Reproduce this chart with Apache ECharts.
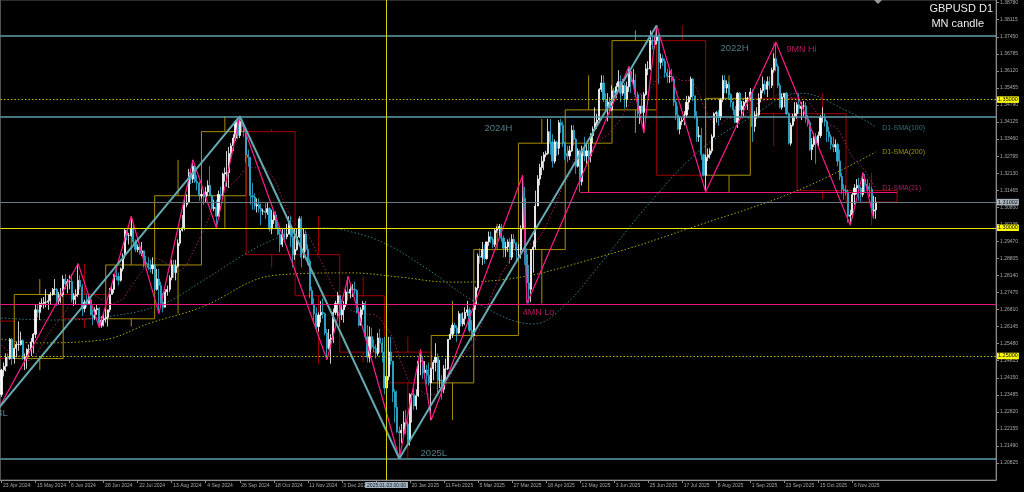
<!DOCTYPE html>
<html><head><meta charset="utf-8">
<script src="https://cdn.jsdelivr.net/npm/echarts@6/dist/echarts.min.js"></script>
<style>html,body{margin:0;padding:0;background:#000}#c{width:1024px;height:492px}</style>
</head><body><div id="c"></div>
<script>
// ---------- DATA ----------
// closes before first visible bar (Mar 26 - Apr 22 2024), for SMA(21) and the April monthly candle
const preCloses = [1.2636,1.2628,1.2623,1.2636,1.2545,1.2565,1.2650,1.2640,1.2635,1.2665,1.2670,1.2540,1.2555,1.2450,1.2445,1.2430,1.2455,1.2440,1.2370,1.2350];
const aprilHead = {startIdx:-16, open:1.2636, high:1.2710, low:1.2300};
// daily bars [high, low, close]
const m2024_04 = [[1.2450,1.2340,1.2445],[1.2475,1.2420,1.2460],[1.2510,1.2440,1.2495],[1.2510,1.2460,1.2490],[1.2570,1.2485,1.2565],[1.2570,1.2465,1.2490]];
const m2024_05 = [[1.2530,1.2470,1.2530],[1.2555,1.2495,1.2545],[1.2635,1.2520,1.2545],[1.2595,1.2540,1.2560],[1.2565,1.2485,1.2490],[1.2510,1.2445,1.2495],[1.2530,1.2450,1.2525],[1.2545,1.2495,1.2525],[1.2570,1.2500,1.2555],[1.2590,1.2510,1.2585],[1.2700,1.2570,1.2680],[1.2700,1.2650,1.2670],[1.2710,1.2640,1.2705],[1.2725,1.2690,1.2705],[1.2730,1.2685,1.2710],[1.2760,1.2690,1.2710],[1.2740,1.2680,1.2715],[1.2750,1.2700,1.2740],[1.2765,1.2735,1.2760],[1.2800,1.2740,1.2760],[1.2765,1.2695,1.2715],[1.2750,1.2700,1.2735],[1.2765,1.2705,1.2740]];
const m2024_06 = [[1.2815,1.2730,1.2800],[1.2820,1.2760,1.2780],[1.2800,1.2745,1.2790],[1.2815,1.2760,1.2790],[1.2820,1.2710,1.2720],[1.2745,1.2695,1.2735],[1.2760,1.2700,1.2740],[1.2860,1.2730,1.2795],[1.2815,1.2760,1.2770],[1.2780,1.2655,1.2685],[1.2720,1.2670,1.2710],[1.2740,1.2690,1.2705],[1.2740,1.2700,1.2720],[1.2735,1.2660,1.2660],[1.2680,1.2620,1.2650],[1.2690,1.2640,1.2680],[1.2700,1.2660,1.2685],[1.2690,1.2610,1.2620],[1.2655,1.2610,1.2640],[1.2670,1.2615,1.2645]];
const m2024_07 = [[1.2685,1.2630,1.2650],[1.2680,1.2615,1.2680],[1.2765,1.2670,1.2740],[1.2775,1.2740,1.2760],[1.2820,1.2745,1.2815],[1.2840,1.2795,1.2810],[1.2825,1.2775,1.2795],[1.2845,1.2790,1.2840],[1.2900,1.2830,1.2890],[1.2995,1.2880,1.2990],[1.2990,1.2950,1.2970],[1.2980,1.2935,1.2970],[1.3045,1.2965,1.2995],[1.3010,1.2935,1.2945],[1.2955,1.2905,1.2915],[1.2935,1.2905,1.2925],[1.2935,1.2895,1.2900],[1.2945,1.2890,1.2910],[1.2905,1.2845,1.2865],[1.2890,1.2845,1.2860],[1.2885,1.2835,1.2845],[1.2875,1.2825,1.2840],[1.2885,1.2820,1.2855]];
const m2024_08 = [[1.2860,1.2755,1.2760],[1.2840,1.2755,1.2800],[1.2840,1.2665,1.2775],[1.2790,1.2700,1.2710],[1.2745,1.2670,1.2690],[1.2760,1.2690,1.2750],[1.2775,1.2735,1.2760],[1.2815,1.2750,1.2805],[1.2875,1.2795,1.2855],[1.2875,1.2805,1.2825],[1.2875,1.2795,1.2850],[1.2955,1.2845,1.2940],[1.3000,1.2930,1.2990],[1.3050,1.2985,1.3000],[1.3110,1.2990,1.3090],[1.3130,1.3080,1.3100],[1.3230,1.3095,1.3215],[1.3230,1.3170,1.3190],[1.3265,1.3175,1.3240],[1.3245,1.3175,1.3180],[1.3205,1.3145,1.3175],[1.3180,1.3105,1.3125]];
const m2024_09 = [[1.3150,1.3115,1.3130],[1.3140,1.3090,1.3120],[1.3160,1.3100,1.3140],[1.3185,1.3125,1.3165],[1.3240,1.3125,1.3125],[1.3130,1.3070,1.3075],[1.3110,1.3065,1.3080],[1.3110,1.3000,1.3045],[1.3145,1.3045,1.3130],[1.3160,1.3110,1.3125],[1.3215,1.3125,1.3210],[1.3235,1.3180,1.3215],[1.3300,1.3160,1.3215],[1.3315,1.3155,1.3290],[1.3330,1.3265,1.3320],[1.3365,1.3300,1.3350],[1.3420,1.3340,1.3415],[1.3425,1.3345,1.3360],[1.3435,1.3350,1.3415],[1.3425,1.3375,1.3395],[1.3405,1.3355,1.3375]];
const m2024_10 = [[1.3385,1.3255,1.3285],[1.3305,1.3240,1.3275],[1.3275,1.3090,1.3125],[1.3175,1.3070,1.3120],[1.3135,1.3070,1.3085],[1.3115,1.3060,1.3090],[1.3115,1.3060,1.3075],[1.3095,1.3010,1.3065],[1.3075,1.3050,1.3065],[1.3095,1.3035,1.3060],[1.3100,1.3050,1.3075],[1.3080,1.2985,1.2995],[1.3070,1.2975,1.3030],[1.3070,1.3015,1.3050],[1.3065,1.2995,1.3000],[1.3030,1.2970,1.2975],[1.2995,1.2905,1.2935],[1.2995,1.2925,1.2975],[1.2995,1.2945,1.2965],[1.3015,1.2955,1.2975],[1.3045,1.2980,1.3010],[1.3045,1.2925,1.2965],[1.2995,1.2845,1.2895]];
const m2024_11 = [[1.2995,1.2875,1.2915],[1.2995,1.2910,1.2965],[1.3045,1.2960,1.3035],[1.3045,1.2845,1.2885],[1.2995,1.2880,1.2975],[1.2990,1.2905,1.2915],[1.2935,1.2855,1.2870],[1.2880,1.2725,1.2755],[1.2770,1.2700,1.2700],[1.2725,1.2630,1.2665],[1.2690,1.2595,1.2615],[1.2670,1.2595,1.2660],[1.2715,1.2630,1.2670],[1.2725,1.2645,1.2665],[1.2670,1.2580,1.2590],[1.2605,1.2485,1.2530],[1.2605,1.2525,1.2565],[1.2585,1.2470,1.2570],[1.2685,1.2550,1.2670],[1.2715,1.2660,1.2705],[1.2750,1.2655,1.2735]];
const m2024_12 = [[1.2735,1.2615,1.2660],[1.2715,1.2640,1.2680],[1.2715,1.2630,1.2700],[1.2760,1.2690,1.2750],[1.2810,1.2715,1.2745],[1.2780,1.2725,1.2760],[1.2780,1.2730,1.2760],[1.2790,1.2740,1.2755],[1.2760,1.2665,1.2670],[1.2690,1.2615,1.2620],[1.2690,1.2620,1.2680],[1.2715,1.2660,1.2705],[1.2715,1.2570,1.2575],[1.2620,1.2475,1.2495],[1.2615,1.2475,1.2575],[1.2610,1.2525,1.2535],[1.2565,1.2515,1.2530],[1.2545,1.2490,1.2510],[1.2590,1.2500,1.2570],[1.2605,1.2515,1.2550],[1.2570,1.2475,1.2515]];
const m2025_01 = [[1.2575,1.2350,1.2375],[1.2450,1.2355,1.2420],[1.2575,1.2405,1.2515],[1.2575,1.2465,1.2480],[1.2480,1.2320,1.2360],[1.2370,1.2240,1.2300],[1.2365,1.2200,1.2205],[1.2225,1.2100,1.2200],[1.2235,1.2160,1.2210],[1.2285,1.2180,1.2240],[1.2290,1.2195,1.2235],[1.2245,1.2160,1.2170],[1.2355,1.2150,1.2350],[1.2355,1.2240,1.2350],[1.2375,1.2290,1.2305],[1.2370,1.2290,1.2345],[1.2490,1.2340,1.2480],[1.2525,1.2425,1.2480],[1.2500,1.2410,1.2435],[1.2480,1.2415,1.2445],[1.2465,1.2390,1.2425],[1.2475,1.2385,1.2395]];
const m2025_02 = [[1.2455,1.2250,1.2450],[1.2485,1.2405,1.2475],[1.2550,1.2440,1.2495],[1.2510,1.2355,1.2405],[1.2485,1.2375,1.2405],[1.2425,1.2330,1.2370],[1.2465,1.2355,1.2450],[1.2490,1.2405,1.2450],[1.2565,1.2445,1.2565],[1.2610,1.2565,1.2585],[1.2630,1.2570,1.2620],[1.2630,1.2590,1.2610],[1.2620,1.2555,1.2590],[1.2675,1.2585,1.2665],[1.2665,1.2615,1.2625],[1.2670,1.2615,1.2645],[1.2690,1.2620,1.2670],[1.2715,1.2655,1.2680],[1.2690,1.2590,1.2600],[1.2640,1.2560,1.2580]];
const m2025_03 = [[1.2700,1.2585,1.2700],[1.2770,1.2680,1.2765],[1.2900,1.2755,1.2890],[1.2920,1.2860,1.2885],[1.2945,1.2855,1.2915],[1.2935,1.2860,1.2880],[1.2945,1.2875,1.2945],[1.2985,1.2930,1.2965],[1.2985,1.2940,1.2955],[1.2965,1.2920,1.2935],[1.2995,1.2925,1.2990],[1.3005,1.2980,1.2995],[1.3015,1.2965,1.3005],[1.3015,1.2945,1.2960],[1.2970,1.2885,1.2920],[1.2945,1.2885,1.2925],[1.2955,1.2905,1.2945],[1.2960,1.2860,1.2885],[1.2975,1.2875,1.2955],[1.2975,1.2920,1.2940],[1.2945,1.2875,1.2915]];
const m2025_04 = [[1.2935,1.2875,1.2915],[1.3010,1.2880,1.2995],[1.3205,1.2995,1.3115],[1.3160,1.2855,1.2895],[1.2920,1.2710,1.2785],[1.2855,1.2705,1.2760],[1.2915,1.2710,1.2915],[1.2950,1.2825,1.2925],[1.3145,1.2915,1.3085],[1.3205,1.3100,1.3190],[1.3250,1.3165,1.3235],[1.3280,1.3205,1.3260],[1.3295,1.3225,1.3285],[1.3300,1.3275,1.3290],[1.3425,1.3285,1.3375],[1.3425,1.3285,1.3335],[1.3365,1.3235,1.3260],[1.3345,1.3250,1.3335],[1.3340,1.3280,1.3310],[1.3420,1.3285,1.3410],[1.3425,1.3370,1.3400],[1.3415,1.3315,1.3330]];
const m2025_05 = [[1.3335,1.3265,1.3290],[1.3320,1.3255,1.3280],[1.3320,1.3265,1.3300],[1.3400,1.3295,1.3380],[1.3400,1.3320,1.3345],[1.3350,1.3210,1.3240],[1.3310,1.3235,1.3300],[1.3305,1.3140,1.3180],[1.3320,1.3165,1.3305],[1.3355,1.3260,1.3280],[1.3325,1.3250,1.3300],[1.3325,1.3255,1.3280],[1.3370,1.3255,1.3360],[1.3395,1.3330,1.3385],[1.3470,1.3380,1.3410],[1.3445,1.3385,1.3420],[1.3545,1.3410,1.3540],[1.3595,1.3530,1.3565],[1.3595,1.3490,1.3500],[1.3525,1.3450,1.3470],[1.3525,1.3415,1.3490],[1.3510,1.3445,1.3460]];
const m2025_06 = [[1.3555,1.3455,1.3535],[1.3545,1.3485,1.3525],[1.3565,1.3505,1.3550],[1.3615,1.3530,1.3570],[1.3595,1.3490,1.3525],[1.3580,1.3515,1.3555],[1.3565,1.3465,1.3500],[1.3570,1.3470,1.3550],[1.3630,1.3530,1.3610],[1.3620,1.3525,1.3570],[1.3620,1.3550,1.3575],[1.3600,1.3520,1.3520],[1.3530,1.3430,1.3445],[1.3475,1.3405,1.3475],[1.3520,1.3445,1.3450],[1.3530,1.3370,1.3520],[1.3640,1.3515,1.3620],[1.3650,1.3595,1.3620],[1.3770,1.3615,1.3730],[1.3755,1.3695,1.3715],[1.3745,1.3700,1.3730]];
const m2025_07 = [[1.3790,1.3715,1.3745],[1.3755,1.3560,1.3645],[1.3680,1.3620,1.3660],[1.3675,1.3630,1.3650],[1.3660,1.3585,1.3605],[1.3620,1.3565,1.3590],[1.3615,1.3565,1.3590],[1.3620,1.3570,1.3580],[1.3590,1.3475,1.3490],[1.3500,1.3420,1.3440],[1.3475,1.3380,1.3385],[1.3435,1.3365,1.3415],[1.3430,1.3400,1.3420],[1.3455,1.3400,1.3440],[1.3515,1.3430,1.3490],[1.3515,1.3460,1.3510],[1.3590,1.3500,1.3580],[1.3585,1.3495,1.3515],[1.3515,1.3425,1.3435],[1.3455,1.3335,1.3355],[1.3395,1.3335,1.3360],[1.3390,1.3265,1.3285],[1.3290,1.3200,1.3205]];
const m2025_08 = [[1.3285,1.3140,1.3275],[1.3310,1.3260,1.3285],[1.3310,1.3270,1.3300],[1.3365,1.3290,1.3355],[1.3450,1.3350,1.3445],[1.3455,1.3410,1.3450],[1.3460,1.3400,1.3430],[1.3505,1.3420,1.3500],[1.3595,1.3490,1.3575],[1.3595,1.3525,1.3545],[1.3575,1.3525,1.3560],[1.3570,1.3500,1.3520],[1.3525,1.3470,1.3490],[1.3495,1.3440,1.3460],[1.3475,1.3410,1.3410],[1.3530,1.3390,1.3525],[1.3530,1.3455,1.3460],[1.3495,1.3440,1.3475],[1.3495,1.3435,1.3490],[1.3530,1.3485,1.3505],[1.3510,1.3460,1.3505]];
const m2025_09 = [[1.3545,1.3495,1.3530],[1.3540,1.3335,1.3395],[1.3455,1.3375,1.3440],[1.3470,1.3425,1.3440],[1.3525,1.3430,1.3505],[1.3545,1.3490,1.3535],[1.3590,1.3525,1.3560],[1.3575,1.3520,1.3540],[1.3590,1.3510,1.3570],[1.3590,1.3540,1.3555],[1.3625,1.3545,1.3615],[1.3680,1.3605,1.3660],[1.3725,1.3610,1.3630],[1.3640,1.3545,1.3555],[1.3565,1.3465,1.3470],[1.3525,1.3460,1.3510],[1.3525,1.3470,1.3525],[1.3530,1.3440,1.3445],[1.3450,1.3325,1.3330],[1.3410,1.3320,1.3400],[1.3445,1.3395,1.3435],[1.3490,1.3415,1.3445]];
const m2025_10 = [[1.3490,1.3425,1.3480],[1.3525,1.3445,1.3465],[1.3490,1.3420,1.3475],[1.3495,1.3435,1.3475],[1.3490,1.3410,1.3425],[1.3440,1.3395,1.3410],[1.3420,1.3300,1.3305],[1.3350,1.3265,1.3325],[1.3370,1.3315,1.3355],[1.3370,1.3250,1.3330],[1.3375,1.3315,1.3360],[1.3440,1.3350,1.3430],[1.3470,1.3410,1.3430],[1.3445,1.3395,1.3415],[1.3420,1.3335,1.3375],[1.3395,1.3335,1.3355],[1.3365,1.3305,1.3325],[1.3355,1.3295,1.3315],[1.3345,1.3295,1.3325],[1.3330,1.3240,1.3260],[1.3305,1.3185,1.3200],[1.3215,1.3130,1.3150],[1.3170,1.3110,1.3145]];
const m2025_11 = [[1.3165,1.3125,1.3140],[1.3150,1.3020,1.3045],[1.3070,1.3010,1.3050],[1.3140,1.3040,1.3130],[1.3170,1.3090,1.3155],[1.3190,1.3130,1.3165],[1.3195,1.3105,1.3155],[1.3160,1.3100,1.3130],[1.3215,1.3120,1.3190],[1.3210,1.3135,1.3170],[1.3190,1.3145,1.3160],[1.3175,1.3120,1.3150],[1.3160,1.3060,1.3065],[1.3125,1.3040,1.3070],[1.3120,1.3035,1.31002]];

// moving averages: [bar index, value]
const sma100Pts = [[0,1.2648],[25,1.2640],[51,1.2655],[75,1.2700],[94,1.2790],[115,1.2900],[128,1.2955],[140,1.2990],[153,1.2999],[164,1.2985],[180,1.2940],[200,1.2840],[225,1.2700],[250,1.2625],[265,1.2700],[281,1.2854],[305,1.3100],[328,1.3300],[352,1.3430],[375,1.3525],[399,1.3450],[411,1.3393]];
const sma200Pts = [[0,1.2566],[15,1.2551],[47,1.2562],[70,1.2629],[93,1.2687],[130,1.2816],[164,1.2824],[187,1.2808],[211,1.2788],[234,1.2796],[281,1.2886],[328,1.3011],[375,1.3148],[411,1.3296]];
// zigzags [bar index, price]
const zigMagenta = [[-1,1.2300],[36,1.2860],[46,1.2610],[61,1.3045],[74,1.2665],[90,1.3265],[101,1.3000],[112,1.3435],[153,1.2485],[163,1.2810],[187,1.2100],[197,1.2525],[202,1.2250],[245,1.3205],[247,1.2705],[295,1.3630],[302,1.3370],[308,1.3790],[331,1.3140],[364,1.3725],[399,1.3010],[405,1.3215],[410,1.3035]];
const zigTeal = [[-1,1.2300],[112,1.3435],[187,1.2100],[308,1.3790]];
// levels
const level2022H = 1.3748, level2024H = 1.3435, level2025L = 1.2100;
const levelRound = [1.35, 1.30, 1.25];
const level4MNLo = 1.2703;
const level9MNLoSeg = {price:1.3140, from:272, to:421};
const lastPrice = 1.31002;
const vlineIdx = 181, vlineLabel = '2025.01.03 00:00';
const priceTicks = [1.20825,1.21490,1.22155,1.22820,1.23485,1.24150,1.24815,1.25480,1.26145,1.26810,1.27475,1.28140,1.28805,1.29470,1.30135,1.30800,1.31465,1.32130,1.32795,1.33460,1.34125,1.34790,1.35455,1.36120,1.36785,1.37450,1.38115,1.38780];
const notes = [
  {text:'2022H', idx:338, price:1.3699, color:'#5f9ea8', size:9.5},
  {text:'9MN Hi', idx:369, price:1.3697, color:'#e0207a', size:9},
  {text:'2024H', idx:227, price:1.3389, color:'#5f9ea8', size:9.5},
  {text:'2025L', idx:197, price:1.2122, color:'#5f9ea8', size:9.5},
  {text:'4MN Lo', idx:245, price:1.2668, color:'#e0207a', size:9},
  {text:'D1-SMA(100)', idx:414, price:1.3390, color:'#3f8d93', size:7},
  {text:'D1-SMA(200)', idx:414, price:1.3296, color:'#b8b800', size:7},
  {text:'D1-SMA(21)', idx:414, price:1.3155, color:'#d42a7c', size:7},
  {text:'2024L', idx:3, price:1.2278, color:'#5f9ea8', size:9.5, align:'right'}
];

// ---------- BUILD ----------
const N = 468;
const holidays = ['2024-12-25','2025-01-01'];
const mon = ['Jan','Feb','Mar','Apr','May','Jun','Jul','Aug','Sep','Oct','Nov','Dec'];
const dates = [];
{
  let d = new Date(Date.UTC(2024,3,23));
  while (dates.length < N) {
    const wd = d.getUTCDay();
    const iso = d.toISOString().slice(0,10);
    if (wd !== 0 && wd !== 6 && holidays.indexOf(iso) < 0) dates.push(new Date(d.getTime()));
    d = new Date(d.getTime() + 86400000);
  }
}
const catLabels = dates.map(d => d.getUTCDate() + ' ' + mon[d.getUTCMonth()] + ' ' + d.getUTCFullYear());
const monthBlocks = [m2024_04,m2024_05,m2024_06,m2024_07,m2024_08,m2024_09,m2024_10,m2024_11,m2024_12,m2025_01,m2025_02,m2025_03,m2025_04,m2025_05,m2025_06,m2025_07,m2025_08,m2025_09,m2025_10,m2025_11];
const bars = [].concat(...monthBlocks);
const lastIdx = bars.length - 1;
let prevC = preCloses[preCloses.length - 1];
const candles = bars.map(([h, l, c]) => {
  const o = prevC; prevC = c;
  return [o, c, Math.min(l, o, c), Math.max(h, o, c)];
});
const closes = candles.map(k => k[1]);
const allCloses = preCloses.concat(closes);
const sma21 = closes.map((_, i) => {
  const w = allCloses.slice(i, i + 21);
  return +(w.reduce((a, b) => a + b, 0) / w.length).toFixed(5);
});
// monthly candles
const monthly = [];
{
  let start = 0;
  for (let i = 1; i <= candles.length; i++) {
    const endMonth = i === candles.length || dates[i].getUTCMonth() !== dates[start].getUTCMonth();
    if (endMonth) {
      let next = i;
      if (i === candles.length) next = level9MNLoSeg.to;
      const seg = candles.slice(start, i);
      let o = seg[0][0], hi = Math.max(...seg.map(k => k[3])), lo = Math.min(...seg.map(k => k[2]));
      let s = start;
      if (start === 0) { o = aprilHead.open; hi = Math.max(hi, aprilHead.high); lo = Math.min(lo, aprilHead.low); s = aprilHead.startIdx; }
      monthly.push([s, next, o, seg[seg.length - 1][1], hi, lo]);
      start = i;
    }
  }
}

// ---------- CHART ----------
const chart = echarts.init(document.getElementById('c'));
const yMin = 1.20162, yMax = 1.38885;
const FONT = 'Liberation Sans';
const labelShow = (i) => i % 16 === 0 && i <= lastIdx;
const bull = '#a88f00', bear = '#a30000';

const levelLines = [
  {yAxis: level2022H, lineStyle:{color:'#5f9ea8', width:1.5, type:'solid'}},
  {yAxis: level2024H, lineStyle:{color:'#5f9ea8', width:1.5, type:'solid'}},
  {yAxis: level2025L, lineStyle:{color:'#5f9ea8', width:1.5, type:'solid'}},
  {yAxis: level4MNLo, lineStyle:{color:'#e8157f', width:1.2, type:'solid'}},
  {yAxis: lastPrice, lineStyle:{color:'#6c7a86', width:1, type:'solid'},
   label:{show:true, position:'end', distance:1, formatter: lastPrice.toFixed(5), backgroundColor:'#a9b4bf', color:'#111', fontSize:5.5, fontFamily:FONT, padding:[0.5,1,0,1]}},
  ...levelRound.map(v => ({yAxis: v, lineStyle:{color: v === 1.30 ? '#e6e600' : '#c8c400', width:1, type: v === 1.30 ? 'solid' : [1.5,2]},
    label:{show:true, position:'end', distance:1, formatter: v.toFixed(5), backgroundColor:'#ffff00', color:'#000', fontSize:5.5, fontFamily:FONT, padding:[0.5,1,0,1]}})),
  [{coord:[level9MNLoSeg.from, level9MNLoSeg.price], lineStyle:{color:'#e8157f', width:1.2, type:'solid'}}, {coord:[level9MNLoSeg.to, level9MNLoSeg.price]}],
  {xAxis: vlineIdx, lineStyle:{color:'#d4d400', width:1, type:'solid'},
   label:{show:true, position:'start', distance:2, formatter: vlineLabel, backgroundColor:'#9fb2c0', color:'#1a1a1a', fontSize:5, fontFamily:FONT, padding:[1,2,0,2]}}
];

chart.setOption({
  animation:false,
  backgroundColor:'#000',
  grid:{left:0, right:28, top:0, bottom:12, show:true, borderColor:'#5a5a5a', borderWidth:1},
  xAxis:{
    type:'category', data:catLabels, boundaryGap:true,
    axisLine:{show:true, lineStyle:{color:'#8c8c8c'}},
    axisTick:{show:true, alignWithLabel:true, interval:labelShow, length:3, lineStyle:{color:'#8c8c8c'}},
    axisLabel:{show:true, interval:labelShow, color:'#a8a8a8', fontSize:5, fontFamily:FONT, align:'left', margin:3, padding:[0,0,0,1.5]},
    splitLine:{show:false}
  },
  yAxis:{
    type:'value', position:'right', min:yMin, max:yMax, scale:true,
    axisLine:{show:true, lineStyle:{color:'#8c8c8c'}},
    axisTick:{show:true, length:3, customValues:priceTicks, lineStyle:{color:'#8c8c8c'}},
    axisLabel:{show:true, customValues:priceTicks, formatter:(v)=>v.toFixed(5), color:'#a8a8a8', fontSize:5, fontFamily:FONT, margin:4},
    splitLine:{show:false}
  },
  series:[
    {
      name:'MN candle', type:'custom', z:1, clip:true,
      data: monthly,
      encode:{x:[0,1], y:[2,3,4,5]},
      renderItem:(params, api) => {
        const s = api.value(0), e = api.value(1), o = api.value(2), c = api.value(3), h = api.value(4), l = api.value(5);
        const tl = api.coord([s, Math.max(o, c)]), br = api.coord([e, Math.min(o, c)]);
        const mid = (s + e) / 2;
        const ph = api.coord([mid, h]), pl = api.coord([mid, l]);
        const col = c >= o ? bull : bear;
        return {type:'group', children:[
          {type:'rect', shape:{x:tl[0], y:tl[1], width:br[0]-tl[0], height:Math.max(1, br[1]-tl[1])}, style:{fill:null, stroke:col, lineWidth:1}},
          {type:'line', shape:{x1:ph[0], y1:ph[1], x2:ph[0], y2:tl[1]}, style:{stroke:col, lineWidth:1}},
          {type:'line', shape:{x1:pl[0], y1:br[1], x2:pl[0], y2:pl[1]}, style:{stroke:col, lineWidth:1}}
        ]};
      }
    },
    {name:'SMA200', type:'line', z:2, data:sma200Pts, smooth:0.4, showSymbol:false, lineStyle:{color:'#a8a800', width:1, type:[1.5,2]}},
    {name:'SMA100', type:'line', z:2, data:sma100Pts, smooth:0.4, showSymbol:false, lineStyle:{color:'#2f7f86', width:1, type:[1.5,2]}},
    {name:'SMA21', type:'line', z:2, data:sma21, showSymbol:false, lineStyle:{color:'#a3215f', width:1, type:[1.5,2]}},
    {
      name:'GBPUSD', type:'candlestick', z:3, data:candles, barWidth:1.6,
      itemStyle:{color:'#ffffff', color0:'#2fb2d8', borderColor:'#ffffff', borderColor0:'#2fb2d8', borderWidth:0.8},
      markLine:{silent:true, precision:5, symbol:['none','none'], animation:false, label:{show:false}, data:levelLines}
    },
    {name:'ZigZag', type:'line', z:4, data:zigMagenta, showSymbol:false, lineStyle:{color:'#ff1a8c', width:1.2}},
    {name:'Swing', type:'line', z:4, data:zigTeal, showSymbol:false, lineStyle:{color:'#65a9b1', width:2}},
    {
      name:'notes', type:'scatter', z:5, symbolSize:0, silent:true, clip:false,
      data: notes.map(n => ({value:[n.idx, n.price], label:{show:true, position:[0,0], align:n.align || 'left', verticalAlign:'middle', formatter:n.text, color:n.color, fontSize:n.size, fontFamily:FONT}}))
    }
  ],
  graphic:[
    {type:'text', right:31, top:3, style:{text:'GBPUSD D1', fill:'#ececec', font:'11px "Liberation Sans"'}},
    {type:'text', right:40, top:18, style:{text:'MN candle', fill:'#ececec', font:'11px "Liberation Sans"'}},
    {type:'polygon', shape:{points:[[874,0],[882,0],[878,4]]}, style:{fill:'#9a9a9a'}}
  ]
});
</script></body></html>
